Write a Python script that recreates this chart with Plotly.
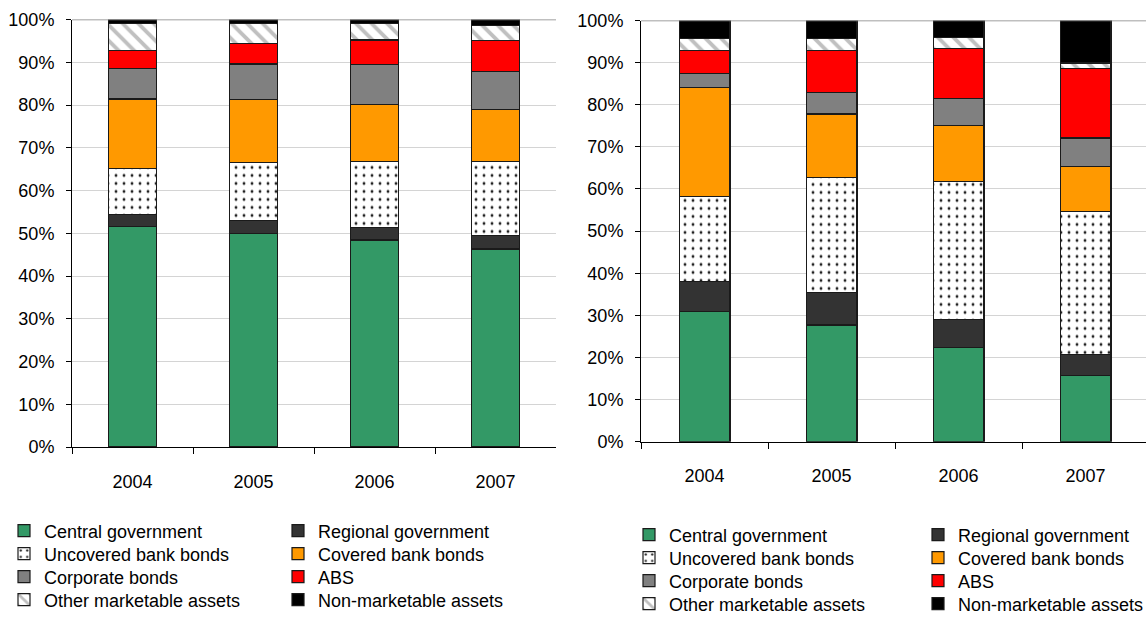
import plotly.graph_objects as go

years = ["2004", "2005", "2006", "2007"]
series_names = ["Central government", "Regional government", "Uncovered bank bonds",
                "Covered bank bonds", "Corporate bonds", "ABS",
                "Other marketable assets", "Non-marketable assets"]

# Left chart (%)
left_central = [51.5, 49.9, 48.4, 46.3]
left_regional = [2.8, 3.0, 3.0, 3.2]
left_uncovered = [10.8, 13.6, 15.3, 17.3]
left_covered = [16.3, 14.7, 13.4, 12.2]
left_corporate = [7.2, 8.4, 9.3, 8.8]
left_abs = [4.1, 4.7, 5.8, 7.2]
left_other = [6.4, 4.8, 3.9, 3.6]
left_nonmkt = [0.9, 0.9, 0.9, 1.4]

# Right chart (%)
right_central = [30.9, 27.7, 22.4, 15.8]
right_regional = [7.1, 7.8, 6.7, 4.9]
right_uncovered = [20.2, 27.3, 32.6, 33.9]
right_covered = [25.8, 15.0, 13.3, 10.7]
right_corporate = [3.4, 5.2, 6.4, 6.8]
right_abs = [5.4, 9.9, 12.0, 16.6]
right_other = [3.0, 2.9, 2.6, 1.2]
right_nonmkt = [4.2, 4.2, 4.0, 10.1]

left_data = [left_central, left_regional, left_uncovered, left_covered,
             left_corporate, left_abs, left_other, left_nonmkt]
right_data = [right_central, right_regional, right_uncovered, right_covered,
              right_corporate, right_abs, right_other, right_nonmkt]

colors = ["#339966", "#333333", "#ffffff", "#ff9900", "#808080", "#ff0000", "#ffffff", "#000000"]
patterns = [None, None,
            dict(shape=".", fgcolor="#222222", bgcolor="#ffffff", size=8, solidity=0.1),
            None, None, None,
            dict(shape="\\", fgcolor="#c0c0c0", bgcolor="#ffffff", size=11, solidity=0.35),
            None]

# one horizontal legend per legend row (2 entries each), 4 rows per chart
left_legends = ["legend", "legend2", "legend3", "legend4"]
right_legends = ["legend5", "legend6", "legend7", "legend8"]

fig = go.Figure()
for i, name in enumerate(series_names):
    row = i // 2
    for vals, xa, ya, lg in [(left_data[i], "x", "y", left_legends[row]),
                             (right_data[i], "x2", "y2", right_legends[row])]:
        marker = dict(color=colors[i], line=dict(color="#1a1a1a", width=1.2))
        if patterns[i]:
            marker["pattern"] = patterns[i]
        fig.add_trace(go.Bar(x=years, y=vals, name=name, marker=marker, xaxis=xa, yaxis=ya,
                             legend=lg, width=0.40, showlegend=True))

font = dict(family="Liberation Sans, Arial, sans-serif", size=18, color="#000000")

yaxis_common = dict(range=[0, 100], dtick=10, ticksuffix="%", showgrid=True, gridcolor="#d4d4d4",
                    gridwidth=1, ticks="outside", ticklen=5, tickcolor="#000000", showline=True,
                    linecolor="#000000", linewidth=1, zeroline=False, automargin=False,
                    ticklabelstandoff=8, tickfont=font, fixedrange=True)
xaxis_common = dict(type="category", showgrid=False, ticks="outside", ticklen=6, tickcolor="#000000",
                    tickson="boundaries", showline=True, linecolor="#000000", linewidth=1,
                    automargin=False, tickfont=font, ticklabelstandoff=18, fixedrange=True)

layout = dict(
    template="none",
    width=1146, height=618,
    margin=dict(l=0, r=0, t=0, b=0, autoexpand=False),
    paper_bgcolor="#ffffff", plot_bgcolor="#ffffff",
    barmode="stack",
    font=font,
    xaxis=dict(domain=[72/1146, 556/1146], range=[-0.5, 3.5], anchor="y", **xaxis_common),
    yaxis=dict(domain=[1-447/618, 1-19.5/618], anchor="x", **yaxis_common),
    xaxis2=dict(domain=[641/1146, 1.0], range=[-0.5, 3.476], anchor="y2", **xaxis_common),
    yaxis2=dict(domain=[1-441.7/618, 1-20.5/618], anchor="x2", **yaxis_common),
    showlegend=True,
)

left_rows_y = [531, 554, 577, 600]
right_rows_y = [535, 558, 581, 604]
for lg, yc in zip(left_legends, left_rows_y):
    layout[lg] = dict(orientation="h", x=4/1146, y=1-yc/618, xanchor="left", yanchor="middle",
                      entrywidth=229, entrywidthmode="pixels", traceorder="normal",
                      font=font, bgcolor="rgba(0,0,0,0)", itemwidth=30)
for lg, yc in zip(right_legends, right_rows_y):
    layout[lg] = dict(orientation="h", x=629/1146, y=1-yc/618, xanchor="left", yanchor="middle",
                      entrywidth=244, entrywidthmode="pixels", traceorder="normal",
                      font=font, bgcolor="rgba(0,0,0,0)", itemwidth=30)

fig.update_layout(**layout)

# darker top border line at 100%
for xr, yr in [("x domain", "y"), ("x2 domain", "y2")]:
    fig.add_shape(type="line", xref=xr, yref=yr, x0=0, x1=1, y0=100, y1=100,
                  line=dict(color="#808080", width=1.5), layer="above")

fig.write_html("out.html", config={"displayModeBar": False})
